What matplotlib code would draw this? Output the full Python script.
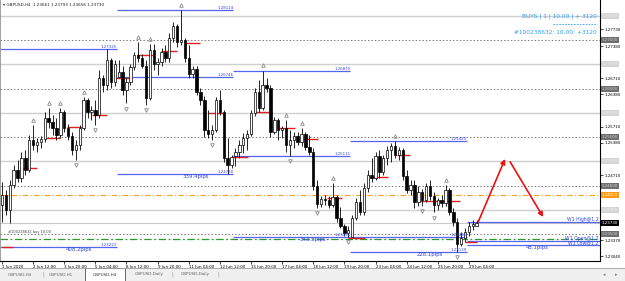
import matplotlib
matplotlib.use('Agg')
import matplotlib.pyplot as plt
from matplotlib.patches import Rectangle
from matplotlib.transforms import blended_transform_factory
from matplotlib.lines import Line2D

plt.rcParams['font.family'] = ['DejaVu Sans']

# ---------------- data ----------------
opens = [1.2410, 1.2431, 1.2400, 1.2451, 1.2482, 1.2465, 1.2507, 1.2482, 1.2544, 1.2534,
         1.2540, 1.2546, 1.2589, 1.2581, 1.2569, 1.2554, 1.2602, 1.2569, 1.2552, 1.2523,
         1.2534, 1.2569, 1.2627, 1.2602, 1.2606, 1.2595, 1.2672, 1.2658, 1.2709, 1.2664,
         1.26746, 1.2684, 1.2647, 1.2664, 1.2695, 1.2719, 1.2713, 1.2697, 1.2631, 1.2730,
         1.2701, 1.2705, 1.2726, 1.2713, 1.2755, 1.2779, 1.2746, 1.2750, 1.2713, 1.2680,
         1.2691, 1.2643, 1.2627, 1.2565, 1.2556, 1.2565, 1.2627, 1.2602, 1.2507, 1.2492,
         1.25111, 1.2519, 1.2534, 1.2548, 1.2556, 1.2600, 1.2643, 1.2610, 1.2658, 1.2651,
         1.2561, 1.2585, 1.2565, 1.2569, 1.2534, 1.2544, 1.2552, 1.2540, 1.2556, 1.2530,
         1.2519, 1.2449, 1.2412, 1.2422, 1.2420, 1.2410, 1.2426, 1.2383, 1.2367, 1.2352,
         1.23446, 1.2383, 1.2416, 1.2395, 1.2445, 1.2471, 1.2465, 1.2511, 1.2478, 1.2507,
         1.2523, 1.2532, 1.2513, 1.2523, 1.2469, 1.2441, 1.2451, 1.2416, 1.2437, 1.2420,
         1.2449, 1.2428, 1.2410, 1.2420, 1.2414, 1.2441, 1.2395, 1.2375, 1.2330, 1.2342,
         1.2354, 1.2367, 1.23661]
highs = [1.2457, 1.2441, 1.2462, 1.2492, 1.2503, 1.2519, 1.2523, 1.2554, 1.2575, 1.2548,
         1.2552, 1.2602, 1.2610, 1.2595, 1.2589, 1.2610, 1.2606, 1.2577, 1.2561, 1.2544,
         1.2575, 1.2633, 1.2631, 1.2614, 1.2627, 1.2689, 1.2678, 1.27325, 1.2713, 1.2709,
         1.2709, 1.2697, 1.2672, 1.2701, 1.2726, 1.2746, 1.2722, 1.2709, 1.2742, 1.2742,
         1.2713, 1.2734, 1.2740, 1.2765, 1.2788, 1.2783, 1.28124, 1.2755, 1.2740, 1.2697,
         1.2697, 1.2651, 1.2635, 1.2606, 1.2575, 1.2633, 1.2647, 1.2606, 1.2548, 1.2513,
         1.2528, 1.2544, 1.2559, 1.2565, 1.2606, 1.2651, 1.2668, 1.2687, 1.2672, 1.2658,
         1.2591, 1.2589, 1.2573, 1.2585, 1.2565, 1.2561, 1.2561, 1.2569, 1.2561, 1.2554,
         1.2528, 1.2462, 1.2428, 1.2431, 1.2428, 1.2455, 1.2431, 1.2406, 1.2371, 1.2367,
         1.2389, 1.2424, 1.2441, 1.2455, 1.2482, 1.2507, 1.2519, 1.2523, 1.2513, 1.2532,
         1.2538, 1.2542, 1.2530, 1.2528, 1.2482, 1.2462, 1.2462, 1.2449, 1.2443, 1.2455,
         1.2462, 1.2437, 1.2424, 1.2431, 1.2451, 1.2445, 1.2404, 1.2383, 1.2354, 1.2362,
         1.2375, 1.2379, 1.23793]
lows = [1.2375, 1.2389, 1.2373, 1.2445, 1.2457, 1.2457, 1.2471, 1.2478, 1.2523, 1.2519,
        1.2528, 1.2540, 1.2569, 1.2554, 1.2544, 1.2548, 1.2561, 1.2544, 1.2513, 1.2503,
        1.2523, 1.2565, 1.2589, 1.2585, 1.2575, 1.2589, 1.2643, 1.2647, 1.2651, 1.2656,
        1.2672, 1.2637, 1.2620, 1.2658, 1.2689, 1.2705, 1.2693, 1.2616, 1.2627, 1.2689,
        1.2678, 1.2697, 1.2705, 1.2705, 1.2746, 1.2736, 1.2740, 1.2705, 1.2672, 1.2672,
        1.2637, 1.2616, 1.2550, 1.2548, 1.2544, 1.2561, 1.2595, 1.2499, 1.2473, 1.2486,
        1.2490, 1.2507, 1.2517, 1.2523, 1.2552, 1.2593, 1.2602, 1.2606, 1.2643, 1.2550,
        1.2556, 1.2544, 1.2548, 1.2519, 1.2511, 1.2528, 1.2534, 1.2532, 1.2523, 1.2513,
        1.2441, 1.2404, 1.2406, 1.2410, 1.2404, 1.2406, 1.2375, 1.2362, 1.2346, 1.23435,
        1.2343, 1.2379, 1.2389, 1.2389, 1.2437, 1.2457, 1.2462, 1.2465, 1.2471, 1.2492,
        1.2499, 1.2507, 1.2503, 1.2462, 1.2435, 1.2431, 1.2404, 1.2408, 1.2408, 1.2416,
        1.2420, 1.2395, 1.2400, 1.2406, 1.2408, 1.2389, 1.2367, 1.23139, 1.2325, 1.2334,
        1.2346, 1.2358, 1.23656]
closes = [1.2431, 1.2400, 1.2451, 1.2482, 1.2465, 1.2507, 1.2482, 1.2544, 1.2534, 1.2540,
          1.2546, 1.2589, 1.2581, 1.2569, 1.2554, 1.2602, 1.2569, 1.2552, 1.2523, 1.2534,
          1.2569, 1.2627, 1.2602, 1.2606, 1.2595, 1.2672, 1.2658, 1.2709, 1.2664, 1.2701,
          1.2684, 1.2647, 1.2664, 1.2695, 1.2719, 1.2713, 1.2697, 1.2631, 1.2730, 1.2701,
          1.2705, 1.2726, 1.2713, 1.2755, 1.2779, 1.2746, 1.2750, 1.2713, 1.2680, 1.2691,
          1.2643, 1.2627, 1.2565, 1.2556, 1.2565, 1.2627, 1.2602, 1.2507, 1.2492, 1.2509,
          1.2519, 1.2534, 1.2548, 1.2556, 1.2600, 1.2643, 1.2610, 1.2658, 1.2651, 1.2561,
          1.2585, 1.2565, 1.2569, 1.2534, 1.2544, 1.2552, 1.2540, 1.2556, 1.2530, 1.2519,
          1.2449, 1.2412, 1.2422, 1.2420, 1.2410, 1.2426, 1.2383, 1.2367, 1.2352, 1.2358,
          1.2383, 1.2416, 1.2395, 1.2445, 1.2471, 1.2465, 1.2511, 1.2478, 1.2507, 1.2523,
          1.2532, 1.2513, 1.2523, 1.2469, 1.2441, 1.2451, 1.2416, 1.2437, 1.2420, 1.2449,
          1.2428, 1.2410, 1.2420, 1.2414, 1.2441, 1.2395, 1.2375, 1.2330, 1.2342, 1.2354,
          1.2367, 1.2371, 1.23730]

time_tick_bars = [0, 8, 16, 24, 32, 40, 48, 56, 64, 72, 80, 88, 96, 104, 112, 120]
time_labels = ['1 Jun 2020', '2 Jun 12:00', '3 Jun 20:00', '5 Jun 04:00', '8 Jun 12:00',
               '9 Jun 20:00', '11 Jun 04:00', '12 Jun 12:00', '15 Jun 20:00', '17 Jun 04:00',
               '18 Jun 12:00', '19 Jun 20:00', '23 Jun 04:00', '24 Jun 12:00', '25 Jun 20:00',
               '29 Jun 04:00']
price_ticks = [1.27730, 1.27380, 1.26710, 1.26380, 1.25710, 1.25380, 1.24710, 1.23370, 1.23040]

round_solid = [1.2800, 1.2700, 1.2600, 1.2500, 1.2400]
round_dotted = [1.2750, 1.2650, 1.2550, 1.2450, 1.2350]
orange_level = 1.24310
green_level = 1.23400
bid_price = 1.23730

week_start = [-0.5, 29.5, 59.5, 89.5]
week_end = [29.5, 59.5, 89.5, 119.5]
week_high = [1.27325, 1.28124, 1.26870, 1.25420]
week_low = [1.23223, 1.24730, 1.23435, 1.23139]
week_open = [None, 1.26746, 1.25111, 1.23446]
week_pips = ['408.2pips', '339.4pips', '343.5pips', '228.1pips']

w1_levels = [1.23751, 1.23356, 1.23270]
w1_labels = ['W1 High@1.2', 'W1 Open@1.2', 'W1 Low@1.2']
w1_pips = '48.1pips'

red_seg_start = [0, 4.6, 11, 16.7, 23.1, 29, 34.7, 40.9, 47, 53, 59.1, 65, 71, 77.4, 83.5, 89, 95, 101.5, 107.5, 119]
red_seg_end = [2.8, 9, 14.9, 20.6, 27, 32.9, 38.8, 45, 50.9, 57.3, 63.2, 69.4, 75.3, 81.2, 87.4, 93.3, 99.2, 104.9, 117.7, 122]
red_seg_price = [1.2323, 1.2486, 1.2548, 1.2571, 1.2595, 1.2672, 1.2719, 1.2728, 1.2744, 1.2600,
                 1.2509, 1.2602, 1.2569, 1.2546, 1.2424, 1.2342, 1.2467, 1.2513, 1.2418, 1.2334]

frac_up_bars = [8, 12, 15, 21, 35, 38, 46, 67, 73, 77, 85, 101, 114]
frac_dn_bars = [19, 24, 32, 37, 54, 74, 81, 89, 108, 111, 117]

arrow_x0 = [122.4, 130.6]
arrow_y0 = [1.2375, 1.2499]
arrow_x1 = [129.3, 139.1]
arrow_y1 = [1.2505, 1.2385]

tabs = ['GBPUSD,H4', 'GBPUSD,H1', 'GBPUSD,H4', 'GBPUSD,Daily', 'GBPUSD,Daily']

# ---------------- figure ----------------
W, H = 625, 281
fig = plt.figure(figsize=(6.25, 2.81), dpi=100)
fig.patch.set_facecolor('white')
ax = fig.add_axes([0, 20 / H, 600 / W, 261 / H])
ax.set_xlim(-0.51, 153.7)
ax.set_ylim(1.22943, 1.2833)
ax.set_facecolor('white')

# horizontal level lines
for p in round_solid:
    ax.axhline(p, color='#cfcfcf', lw=1.0, zorder=1)
for p in round_dotted:
    ax.axhline(p, color='#7a7a7a', lw=0.7, ls=(0, (1.5, 2)), zorder=1)
ax.axhline(bid_price, color='#c8c8c8', lw=0.8, zorder=1)
ax.axhline(orange_level, color='#f5a020', lw=0.8, ls=(0, (5, 2, 1, 2)), zorder=1)
ax.axhline(green_level, color='#2e9a2e', lw=0.9, ls=(0, (6, 2, 1.5, 2)), zorder=1)

# weekly lines
blue_line = '#5566ee'
blue_txt = '#3344dd'
for s, e, hi, lo, op, pp in zip(week_start, week_end, week_high, week_low, week_open, week_pips):
    ax.hlines([hi, lo], s, e, color=blue_line, lw=0.9, zorder=2)
    ax.text(e, hi, f'{hi:.5f}', color=blue_txt, fontsize=2.8, ha='right', va='bottom', zorder=6)
    ax.text(e, lo, f'{lo:.5f}', color=blue_txt, fontsize=2.8, ha='right', va='bottom', zorder=6)
    if op is not None:
        ax.hlines(op, s, e, color=blue_line, lw=0.9, zorder=2)
        ax.text(e, op, f'{op:.5f}', color=blue_txt, fontsize=2.8, ha='right', va='bottom', zorder=6)
    ax.text(s + 0.68 * (e - s), lo, pp, color=blue_txt, fontsize=3.9, ha='center', va='top', zorder=6)

ws = week_end[-1]
for lvl, lab in zip(w1_levels, w1_labels):
    ax.hlines(lvl, ws, 153.7, color=blue_line, lw=0.9, zorder=2)
    ax.text(153.4, lvl, lab, color=blue_txt, fontsize=3.3, ha='right', va='bottom', zorder=6)
ax.text(137.5, w1_levels[-1], w1_pips, color=blue_txt, fontsize=3.9, ha='center', va='top', zorder=6)

# red indicator segments
for s, e, p in zip(red_seg_start, red_seg_end, red_seg_price):
    ax.hlines(p, s, e, color='#e02020', lw=1.0, zorder=3)

# candles
bw = 0.62
for i, (o, h, l, c) in enumerate(zip(opens, highs, lows, closes)):
    ax.vlines(i, l, h, color='black', lw=0.6, zorder=4)
    bottom = min(o, c)
    height = max(abs(c - o), 0.00005)
    fc = 'white' if c >= o else 'black'
    ax.add_patch(Rectangle((i - bw / 2, bottom), bw, height, facecolor=fc,
                           edgecolor='black', lw=0.5, zorder=5))

# fractals
up_x = frac_up_bars
up_y = [highs[b] + 0.0011 for b in frac_up_bars]
dn_x = frac_dn_bars
dn_y = [lows[b] - 0.0011 for b in frac_dn_bars]
ax.plot(up_x, up_y, ls='none', marker='^', ms=2.6, mfc='none', mec='#8a8a8a', mew=0.6, zorder=6)
ax.plot(dn_x, dn_y, ls='none', marker='v', ms=2.6, mfc='none', mec='#8a8a8a', mew=0.6, zorder=6)

# red arrows
for x0, y0, x1, y1 in zip(arrow_x0, arrow_y0, arrow_x1, arrow_y1):
    ax.annotate('', xy=(x1, y1), xytext=(x0, y0),
                arrowprops=dict(arrowstyle='-|>', color='#ee1111', lw=1.2,
                                mutation_scale=7, shrinkA=0, shrinkB=0), zorder=7)

# order label
ax.text(1.5, 1.2350, '#100238632 buy 10.00', fontsize=2.6, color='#404040', ha='left', va='bottom', zorder=6)

# axes styling
for sp in ['top']:
    ax.spines[sp].set_visible(False)
ax.spines['left'].set_color('#909090')
ax.spines['left'].set_linewidth(0.6)
ax.spines['right'].set_color('black')
ax.spines['right'].set_linewidth(0.8)
ax.spines['bottom'].set_color('black')
ax.spines['bottom'].set_linewidth(0.8)

ax.yaxis.tick_right()
ax.set_yticks(price_ticks)
ax.set_yticklabels([f'{p:.5f}' for p in price_ticks], fontsize=2.9)
ax.tick_params(axis='y', length=2, width=0.5, pad=1.5, colors='black')
ax.set_xticks(time_tick_bars)
ax.set_xticklabels(time_labels, fontsize=2.9)
for lab in ax.get_xticklabels():
    lab.set_horizontalalignment('left')
ax.tick_params(axis='x', length=2, width=0.5, pad=0.8)

# price-axis boxes
tr = blended_transform_factory(ax.transAxes, ax.transData)
def box(p, fc, tc):
    ax.text(1.003, p, f'{p:.5f}', transform=tr, fontsize=2.9, color=tc, ha='left', va='center',
            clip_on=False, zorder=8,
            bbox=dict(boxstyle='square,pad=0.25', facecolor=fc, edgecolor='none'))
for p in round_solid:
    box(p, '#d4d4d4', '#f0f0f0')
for p in round_dotted:
    box(p, '#6e6e6e', '#d0d0d0')
box(orange_level, '#ff9a10', 'white')
box(bid_price, 'black', 'white')

# header text
fig.text(3 / W, 1 - 5 / H, '\u25be GBPUSD,H4  1.23661 1.23793 1.23656 1.23730',
         fontsize=3.0, color='#202020', ha='left', va='center')

# top-right trade info
fig.text(597 / W, 1 - 16 / H, 'BUYS | 1 | 10.00 | + 3120', fontsize=4.2, color='#2f9ff0',
         ha='right', va='center')
fig.add_artist(Line2D([553 / W, 597 / W], [1 - 24 / H, 1 - 24 / H], color='#2f9ff0',
                      lw=0.6, ls=(0, (2, 1.5))))
fig.text(597 / W, 1 - 32 / H, '#100238632: 10.00: +3120', fontsize=4.2, color='#2f9ff0',
         ha='right', va='center')

# tab strip
fig.add_artist(Rectangle((0, 0), 1, 13 / H, transform=fig.transFigure, facecolor='#f0f0f0',
                         edgecolor='none', zorder=0))
fig.add_artist(Line2D([0, 1], [13 / H, 13 / H], color='#a0a0a0', lw=0.6))
fig.add_artist(Rectangle((85 / W, 0), 40 / W, 13.5 / H, transform=fig.transFigure,
                         facecolor='white', edgecolor='#505050', lw=0.6, zorder=1))
tab_cx = [20, 61, 105, 149, 195]
for cx, t in zip(tab_cx, tabs):
    fig.text(cx / W, 6.5 / H, t, fontsize=3.0, color='#303030' if cx == 105 else '#606060',
             ha='center', va='center', zorder=2)
for sx in [43, 172, 218]:
    fig.text(sx / W, 6.5 / H, '|', fontsize=3.5, color='#909090', ha='center', va='center')
fig.text(604 / W, 6.5 / H, '\u25c2', fontsize=3.5, color='#808080', ha='center', va='center')
fig.text(616 / W, 6.5 / H, '\u25b8', fontsize=3.5, color='#808080', ha='center', va='center')

fig.savefig('out.png', dpi=100, facecolor='white')
